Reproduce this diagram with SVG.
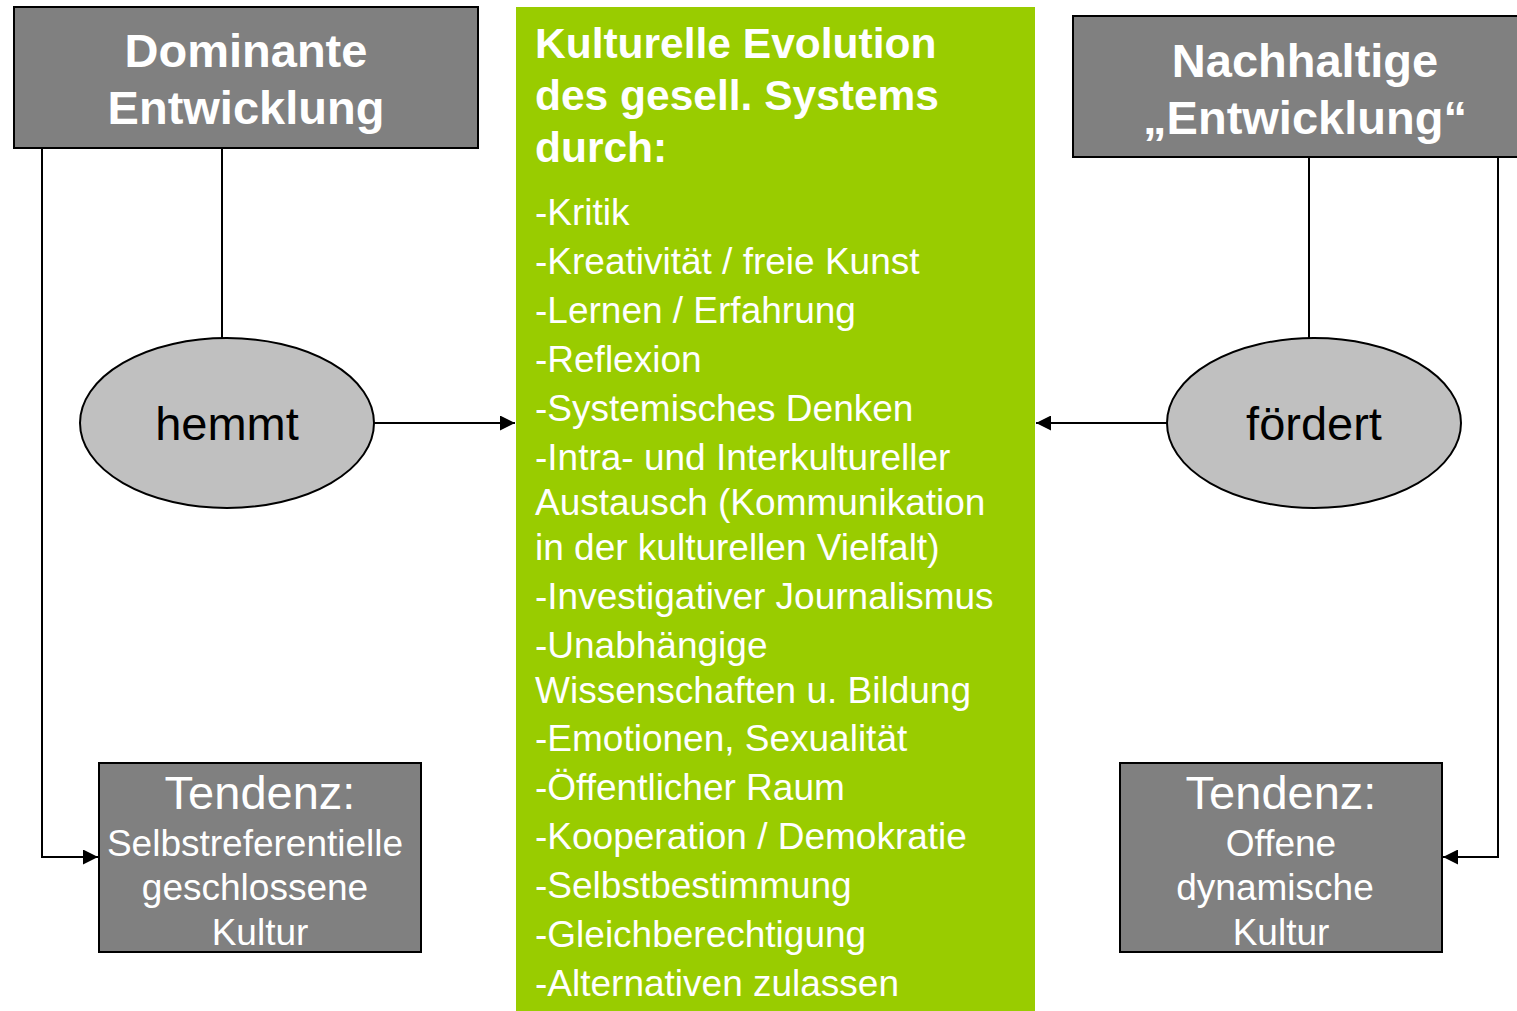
<svg xmlns="http://www.w3.org/2000/svg" width="1517" height="1011" viewBox="0 0 1517 1011">
<style>
.box{fill:#808080;stroke:#000;stroke-width:2}
.ell{fill:#C0C0C0;stroke:#000;stroke-width:2}
.line{fill:none;stroke:#000;stroke-width:2}
.hd{font-family:"Liberation Sans",Arial,sans-serif;font-weight:bold;font-size:47px;fill:#fff;text-anchor:middle}
.el{font-family:"Liberation Sans",Arial,sans-serif;font-size:47px;fill:#000;text-anchor:middle}
.tz{font-family:"Liberation Sans",Arial,sans-serif;font-size:47px;fill:#fff;text-anchor:middle}
.tz2{font-family:"Liberation Sans",Arial,sans-serif;font-size:37px;fill:#fff;text-anchor:middle}
.gt{font-family:"Liberation Sans",Arial,sans-serif;font-weight:bold;font-size:42.5px;fill:#fff}
.gl{font-family:"Liberation Sans",Arial,sans-serif;font-size:37px;fill:#fff}
</style>
<defs>
<marker id="arrB" viewBox="0 0 10 10" refX="10" refY="5" markerWidth="15" markerHeight="15" markerUnits="userSpaceOnUse" orient="auto">
<path d="M0,0 L10,5 L0,10 z" fill="#000"/>
</marker>
</defs>
<rect width="1517" height="1011" fill="#fff"/>
<g id="connectors">
<polyline class="line" points="42,148 42,857 98,857" marker-end="url(#arrB)"/>
<line class="line" x1="222" y1="148" x2="222" y2="338"/>
<line class="line" x1="374" y1="423" x2="515" y2="423" marker-end="url(#arrB)"/>
<line class="line" x1="1309" y1="157" x2="1309" y2="338"/>
<polyline class="line" points="1498,157 1498,857 1443,857" marker-end="url(#arrB)"/>
<line class="line" x1="1167" y1="423" x2="1036" y2="423" marker-end="url(#arrB)"/>
</g>
<g id="dominante">
<rect class="box" x="14" y="7" width="464" height="141"/>
<text class="hd" x="246" y="67">Dominante</text>
<text class="hd" x="246" y="124">Entwicklung</text>
</g>
<g id="nachhaltige">
<rect class="box" x="1073" y="16" width="450" height="141"/>
<text class="hd" x="1305" y="77">Nachhaltige</text>
<text class="hd" x="1305" y="134">„Entwicklung“</text>
</g>
<g id="kultur">
<rect x="516" y="7" width="519" height="1004" fill="#99CC00"/>
<text class="gt" x="535" y="58">Kulturelle Evolution</text>
<text class="gt" x="535" y="110">des gesell. Systems</text>
<text class="gt" x="535" y="162">durch:</text>
<text class="gl" x="535" y="225">-Kritik</text>
<text class="gl" x="535" y="274">-Kreativität / freie Kunst</text>
<text class="gl" x="535" y="323">-Lernen / Erfahrung</text>
<text class="gl" x="535" y="372">-Reflexion</text>
<text class="gl" x="535" y="421">-Systemisches Denken</text>
<text class="gl" x="535" y="470">-Intra- und Interkultureller</text>
<text class="gl" x="535" y="515">Austausch (Kommunikation</text>
<text class="gl" x="535" y="560">in der kulturellen Vielfalt)</text>
<text class="gl" x="535" y="609">-Investigativer Journalismus</text>
<text class="gl" x="535" y="658">-Unabhängige</text>
<text class="gl" x="535" y="703">Wissenschaften u. Bildung</text>
<text class="gl" x="535" y="751">-Emotionen, Sexualität</text>
<text class="gl" x="535" y="800">-Öffentlicher Raum</text>
<text class="gl" x="535" y="849">-Kooperation / Demokratie</text>
<text class="gl" x="535" y="898">-Selbstbestimmung</text>
<text class="gl" x="535" y="947">-Gleichberechtigung</text>
<text class="gl" x="535" y="996">-Alternativen zulassen</text>
</g>
<g id="hemmt">
<ellipse class="ell" cx="227" cy="423" rx="147" ry="85"/>
<text class="el" x="227" y="440">hemmt</text>
</g>
<g id="foerdert">
<ellipse class="ell" cx="1314" cy="423" rx="147" ry="85"/>
<text class="el" x="1314" y="440">fördert</text>
</g>
<g id="tendenz-links">
<rect class="box" x="99" y="763" width="322" height="189"/>
<text class="tz" x="260" y="809">Tendenz:</text>
<text class="tz2" x="255" y="856">Selbstreferentielle</text>
<text class="tz2" x="255" y="900">geschlossene</text>
<text class="tz2" x="260" y="945">Kultur</text>
</g>
<g id="tendenz-rechts">
<rect class="box" x="1120" y="763" width="322" height="189"/>
<text class="tz" x="1281" y="809">Tendenz:</text>
<text class="tz2" x="1281" y="856">Offene</text>
<text class="tz2" x="1275" y="900">dynamische</text>
<text class="tz2" x="1281" y="945">Kultur</text>
</g>
</svg>
